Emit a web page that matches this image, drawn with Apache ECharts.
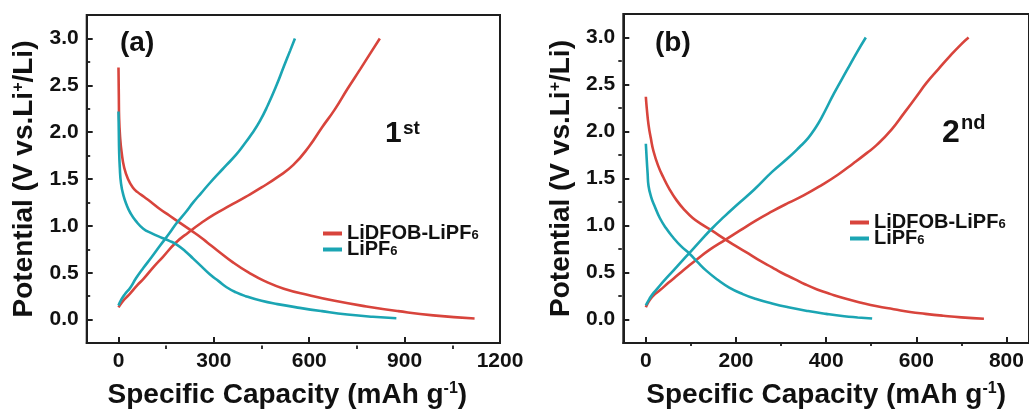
<!DOCTYPE html>
<html>
<head>
<meta charset="utf-8">
<script src="https://cdn.jsdelivr.net/npm/echarts@6/dist/echarts.min.js"></script>
<style>
html,body{margin:0;padding:0;background:#fff;}
#chart{width:1029px;height:414px;}
</style>
</head>
<body>
<div id="chart"></div>
<script>
// ---------- DATA (capacity mAh/g, potential V) ----------
// Panel (a) : 1st cycle
const aDfobDischarge = [[0,2.69],[1,2.4],[2,2.15],[5,1.95],[10,1.78],[18,1.62],[30,1.50],[45,1.41],[60,1.36],[80,1.31],[100,1.26],[130,1.18],[160,1.11],[190,1.04],[220,0.97],[250,0.90],[280,0.82],[310,0.74],[360,0.61],[410,0.50],[460,0.41],[520,0.33],[600,0.26],[680,0.20],[780,0.14],[880,0.09],[990,0.045],[1120,0.012]];
const aDfobCharge = [[0,0.13],[10,0.18],[20,0.22],[37,0.28],[60,0.37],[80,0.44],[110,0.56],[140,0.67],[180,0.82],[220,0.93],[260,1.03],[300,1.12],[350,1.215],[400,1.31],[450,1.41],[500,1.52],[550,1.65],[600,1.85],[640,2.05],[680,2.24],[720,2.46],[760,2.67],[790,2.83],[822,3.0]];
const aPf6Discharge = [[0,2.22],[1,2.0],[2,1.8],[4,1.63],[8,1.45],[16,1.32],[26,1.22],[37,1.14],[55,1.05],[78,0.97],[105,0.92],[131,0.88],[160,0.84],[183,0.80],[210,0.73],[235,0.65],[260,0.57],[288,0.48],[315,0.41],[340,0.345],[370,0.29],[400,0.25],[450,0.20],[500,0.165],[570,0.125],[640,0.09],[720,0.055],[800,0.03],[874,0.014]];
const aPf6Charge = [[0,0.15],[10,0.22],[20,0.27],[37,0.34],[55,0.44],[78,0.55],[105,0.67],[131,0.79],[160,0.92],[183,1.03],[210,1.14],[235,1.25],[260,1.35],[288,1.46],[315,1.56],[340,1.65],[370,1.76],[392,1.855],[420,1.985],[445,2.12],[470,2.29],[497,2.50],[520,2.70],[540,2.87],[555,3.0]];
// Panel (b) : 2nd cycle
const bDfobDischarge = [[0,2.37],[2,2.25],[6,2.07],[11,1.93],[17,1.79],[27,1.64],[39,1.51],[52,1.39],[68,1.27],[85,1.17],[104,1.08],[125,1.01],[145,0.95],[177,0.85],[200,0.78],[228,0.70],[255,0.62],[280,0.555],[300,0.50],[330,0.43],[353,0.375],[380,0.32],[410,0.27],[440,0.225],[480,0.175],[513,0.14],[550,0.11],[586,0.08],[620,0.06],[660,0.04],[700,0.023],[750,0.008]];
const bDfobCharge = [[0,0.13],[5,0.18],[12,0.23],[20,0.27],[31,0.31],[50,0.39],[70,0.47],[90,0.55],[108,0.62],[141,0.74],[177,0.85],[210,0.95],[243,1.05],[280,1.15],[316,1.24],[350,1.32],[390,1.43],[426,1.54],[460,1.66],[490,1.77],[513,1.86],[545,2.02],[572,2.19],[600,2.37],[623,2.52],[650,2.67],[674,2.80],[700,2.93],[716,3.0]];
const bPf6Discharge = [[0,1.87],[2,1.70],[4,1.55],[6,1.42],[12,1.30],[20,1.20],[31,1.08],[45,0.97],[61,0.87],[78,0.78],[97,0.70],[115,0.61],[134,0.52],[160,0.42],[185,0.34],[215,0.27],[243,0.22],[280,0.17],[316,0.13],[360,0.09],[400,0.06],[440,0.035],[470,0.022],[502,0.01]];
const bPf6Charge = [[0,0.15],[8,0.22],[15,0.27],[24,0.32],[40,0.41],[61,0.52],[80,0.62],[97,0.71],[120,0.83],[145,0.96],[175,1.10],[200,1.21],[240,1.38],[280,1.57],[316,1.72],[340,1.83],[360,1.93],[375,2.03],[389,2.14],[418,2.41],[447,2.66],[468,2.84],[488,3.0]];

// ---------- TICKS ----------
const aXTicks = [0,300,600,900,1200];
const aXMinor = [150,450,750,1050];
const bXTicks = [0,200,400,600,800];
const bXMinor = [100,300,500,700];
const yTicks = [0,0.5,1.0,1.5,2.0,2.5,3.0];
const yMinor = [0.25,0.75,1.25,1.75,2.25,2.75];

const seriesNames = ['LiDFOB-LiPF6','LiPF6'];
const panelLabels = ['(a)','(b)'];
const cycleLabels = [['1','st'],['2','nd']];

// ---------- STYLE ----------
const FONT = "'Liberation Sans', Arial, Helvetica, sans-serif";
const RED = '#d8443c';
const CYAN = '#1ba5b3';
const INK = '#111111';
const AXIS = '#1e1e1e';
const W = 1029, H = 414;

const grids = [
  {left: 86.7, top: 15, right: 529, bottom: 65},
  {left: 623.3, top: 14, right: -5, bottom: 68}
];
const xRanges = [[-100,1200],[-50,850]];
const xMajor = [aXTicks, bXTicks];
const xMin = [aXMinor, bXMinor];
const xNamePad = [[0,12,0,0],[0,0,0,0]];

const supRich = {sup:{fontSize:16,fontWeight:'bold',fontFamily:FONT,color:INK,lineHeight:10,verticalAlign:'top'}};

const xAxis = [], yAxis = [];
[0,1].forEach(g => {
  const gr = grids[g];
  const gw = W - gr.left - gr.right, gh = H - gr.top - gr.bottom;
  xAxis.push({
    type:'value', gridIndex:g, min:xRanges[g][0], max:xRanges[g][1], position:'bottom',
    name:'Specific Capacity (mAh g{sup|-1})', nameLocation:'middle', nameGap:38,
    nameTextStyle:{fontSize:28,fontWeight:'bold',fontFamily:FONT,color:INK,lineHeight:28,rich:supRich,padding:xNamePad[g]},
    axisLine:{show:true,onZero:false,lineStyle:{color:AXIS,width:2}},
    axisTick:{show:true,inside:true,length:6,lineStyle:{color:AXIS,width:2},customValues:xMajor[g]},
    axisLabel:{fontSize:21,fontWeight:'bold',fontFamily:FONT,color:INK,margin:8,customValues:xMajor[g],
      formatter:v => String(v)},
    splitLine:{show:false}
  });
  // minor-tick axis: sits on "top" slot, shifted down onto the bottom edge
  xAxis.push({
    type:'value', gridIndex:g, min:xRanges[g][0], max:xRanges[g][1], position:'top', offset:-gh,
    axisLine:{show:false,onZero:false}, axisLabel:{show:false}, splitLine:{show:false},
    axisTick:{show:true,inside:false,length:3.5,lineStyle:{color:AXIS,width:1.8},customValues:xMin[g]}
  });
  yAxis.push({
    type:'value', gridIndex:g, min:-0.25, max:3.25, position:'left',
    name:'Potential (V vs.Li{sup|+}/Li)', nameLocation:'middle', nameGap:48,
    nameTextStyle:{fontSize:28,fontWeight:'bold',fontFamily:FONT,color:INK,lineHeight:28,rich:supRich},
    axisLine:{show:true,onZero:false,lineStyle:{color:AXIS,width:2}},
    axisTick:{show:true,inside:true,length:6,lineStyle:{color:AXIS,width:2},customValues:yTicks},
    axisLabel:{fontSize:21,fontWeight:'bold',fontFamily:FONT,color:INK,margin:8,customValues:yTicks,
      formatter:v => v.toFixed(1)},
    splitLine:{show:false}
  });
  // minor-tick axis: sits on "right" slot, shifted left onto the left edge
  yAxis.push({
    type:'value', gridIndex:g, min:-0.25, max:3.25, position:'right', offset:-gw,
    axisLine:{show:false,onZero:false}, axisLabel:{show:false}, splitLine:{show:false},
    axisTick:{show:true,inside:false,length:3.5,lineStyle:{color:AXIS,width:1.8},customValues:yMinor}
  });
});

function line(name, data, color, g){
  return {type:'line', name:name, data:data, xAxisIndex:g*2, yAxisIndex:g*2,
    showSymbol:false, smooth:0.5, lineStyle:{color:color,width:2.6}, itemStyle:{color:color},
    animation:false, z:3};
}
const series = [
  line(seriesNames[0], aDfobDischarge, RED, 0),
  line(seriesNames[0], aDfobCharge, RED, 0),
  line(seriesNames[1], aPf6Discharge, CYAN, 0),
  line(seriesNames[1], aPf6Charge, CYAN, 0),
  line(seriesNames[0], bDfobDischarge, RED, 1),
  line(seriesNames[0], bDfobCharge, RED, 1),
  line(seriesNames[1], bPf6Discharge, CYAN, 1),
  line(seriesNames[1], bPf6Charge, CYAN, 1)
];

const legendBase = {
  orient:'vertical', data:seriesNames, icon:'rect', itemWidth:19, itemHeight:4, itemGap:-4,
  selectedMode:false,
  formatter: n => n.replace(/6$/, '{sub|6}'),
  textStyle:{fontSize:20,fontWeight:'bold',fontFamily:FONT,color:INK,lineHeight:16,
    rich:{sub:{fontSize:13,fontWeight:'bold',fontFamily:FONT,color:INK,lineHeight:2,verticalAlign:'bottom'}}}
};
const legend = [
  Object.assign({}, legendBase, {left:318, top:218.5}),
  Object.assign({}, legendBase, {left:845, top:207.5})
];

function txt(x, y, text, size){
  return {type:'text', x:x, y:y, z:10,
    style:{text:text, fontSize:size, fontWeight:'bold', fontFamily:FONT, fill:INK, verticalAlign:'middle', align:'left'}};
}
const graphic = [
  txt(120, 43, panelLabels[0], 28),
  txt(655, 43, panelLabels[1], 28),
  txt(385, 134, cycleLabels[0][0], 30),
  txt(403, 128.3, cycleLabels[0][1], 19),
  txt(942, 133.5, cycleLabels[1][0], 32),
  txt(961, 123, cycleLabels[1][1], 20)
];

const chart = echarts.init(document.getElementById('chart'), null, {renderer:'canvas'});
chart.setOption({
  animation:false,
  backgroundColor:'#ffffff',
  grid: grids.map(g => Object.assign({show:true, borderColor:AXIS, borderWidth:2, backgroundColor:'transparent', containLabel:false}, g)),
  xAxis: xAxis,
  yAxis: yAxis,
  legend: legend,
  graphic: graphic,
  series: series
});
</script>
</body>
</html>
